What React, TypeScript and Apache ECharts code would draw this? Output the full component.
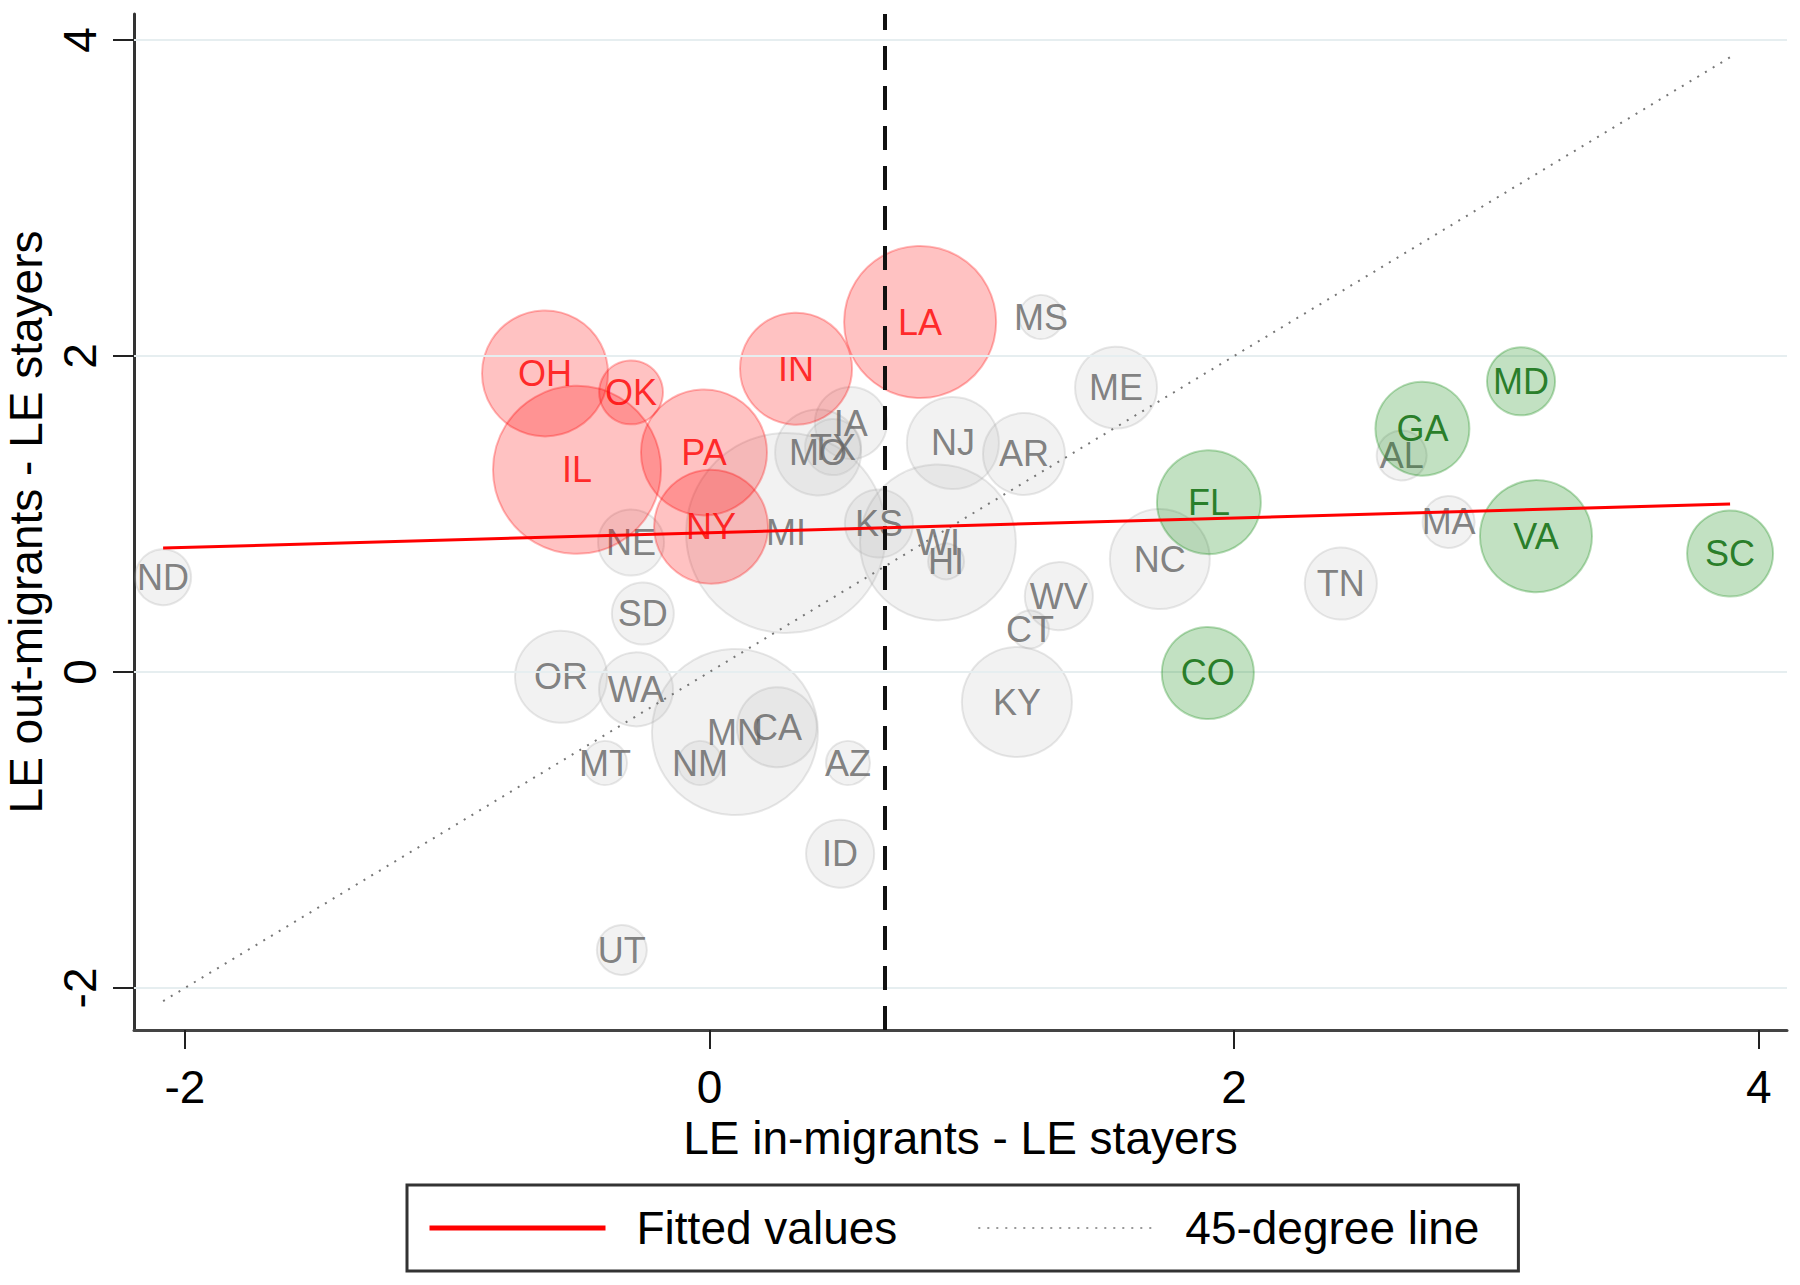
import React, { useEffect, useRef } from "react";
import * as echarts from "echarts";

// ---- data ----
const states = [
  "ND", "OH", "IL", "OK", "PA", "NY", "IN", "LA", "MS", "ME", "NJ", "AR", "IA", "TX", "MO",
  "MI", "KS", "WI", "HI", "NE", "SD", "WV", "CT", "NC", "FL", "CO", "OR", "WA", "MT", "NM",
  "MN", "CA", "AZ", "ID", "UT", "KY", "MD", "GA", "AL", "MA", "VA", "SC", "TN",
];
// LE in-migrants - LE stayers
const inMigGap = [
  -2.083, -0.627, -0.505, -0.299, -0.021, 0.006, 0.33, 0.803, 1.264, 1.55, 0.928, 1.199, 0.539, 0.471, 0.414,
  0.292, 0.646, 0.871, 0.902, -0.299, -0.254, 1.332, 1.222, 1.717, 1.904, 1.9, -0.566, -0.28, -0.398, -0.036,
  0.097, 0.257, 0.528, 0.498, -0.334, 1.172, 3.094, 2.718, 2.639, 2.818, 3.151, 3.891, 2.407,
];
// LE out-migrants - LE stayers
const outMigGap = [
  0.6, 1.89, 1.28, 1.77, 1.39, 0.92, 1.92, 2.215, 2.247, 1.8, 1.45, 1.38, 1.576, 1.424, 1.39,
  0.88, 0.94, 0.82, 0.7, 0.82, 0.37, 0.48, 0.27, 0.715, 1.075, -0.006, -0.03, -0.11, -0.576, -0.576,
  -0.38, -0.35, -0.576, -1.15, -1.76, -0.19, 1.84, 1.54, 1.37, 0.95, 0.86, 0.75, 0.56,
];
// bubble weights (relative, area-proportional)
const weights = [
  7.84, 39.7, 70.6, 10.2, 39.7, 32.5, 31.4, 57.8, 4.84, 16.8, 21.2, 16.8, 13.0, 7.84, 18.5,
  100, 11.6, 60.8, 3.24, 10.9, 9.6, 11.6, 3.6, 25, 27, 21.2, 21.2, 13.7, 4.84, 4.84,
  68.9, 16, 4.84, 11.6, 6.25, 30.3, 11.6, 22.1, 6.25, 6.76, 31.4, 18.5, 13,
];
// group: 0 = other, 1 = red, 2 = green
const groups = [
  0, 1, 1, 1, 1, 1, 1, 1, 0, 0, 0, 0, 0, 0, 0,
  0, 0, 0, 0, 0, 0, 0, 0, 0, 2, 2, 0, 0, 0, 0,
  0, 0, 0, 0, 0, 0, 2, 2, 0, 0, 2, 2, 0,
];

const fittedX = [-2.083, 3.891];
const fittedY = [0.785, 1.063];
const diagX = [-2.083, 3.891];
const xTicks = [-2, 0, 2, 4];
const yTicks = [-2, 0, 2, 4];
const cutoffX = [0.665];

const FONT = "'Liberation Sans', Arial, sans-serif";

export default function App() {
  const ref = useRef<HTMLDivElement>(null);

  useEffect(() => {
    if (!ref.current) return;
    const chart = echarts.init(ref.current, undefined, { renderer: "svg" });

    const pts = (g: number) =>
      states
        .map((s, i) => ({ name: s, value: [inMigGap[i], outMigGap[i], weights[i]], g: groups[i] }))
        .filter((d) => d.g === g)
        .map((d) => ({ name: d.name, value: d.value }));

    const sizeFn = (v: number[]) => 20 * Math.sqrt(v[2]);

    const groupStyles = [
      { fill: "rgba(190,190,190,0.25)", border: "rgba(160,160,160,0.3)", text: "#636363" },
      { fill: "rgba(255,0,0,0.3)", border: "rgba(255,0,0,0.35)", text: "#ff0000" },
      { fill: "rgba(0,128,0,0.3)", border: "rgba(0,128,0,0.35)", text: "#006400" },
    ];

    const bubbleSeries = [0, 1, 2].map((g) => ({
      type: "scatter",
      name: "g" + g,
      z: 3 + g,
      data: pts(g),
      symbol: "circle",
      symbolSize: sizeFn,
      itemStyle: {
        color: groupStyles[g].fill,
        borderColor: groupStyles[g].border,
        borderWidth: 2,
      },
      label: {
        show: true,
        position: "inside",
        formatter: "{b}",
        fontSize: 36,
        fontFamily: FONT,
        color: groupStyles[g].text,
      },
      emphasis: { disabled: true },
    }));

    chart.setOption({
      animation: false,
      backgroundColor: "#ffffff",
      textStyle: { fontFamily: FONT },
      grid: { left: 134, right: 13, top: 14, bottom: 255, containLabel: false, outerBoundsMode: "none" },
      xAxis: {
        type: "value",
        min: -2.194,
        max: 4.108,
        name: "LE in-migrants - LE stayers",
        nameLocation: "middle",
        nameGap: 84,
        nameTextStyle: { fontSize: 46, color: "#000", fontFamily: FONT },
        axisLine: { show: true, onZero: false, lineStyle: { color: "#444", width: 3 } },
        axisTick: { show: true, length: 19, customValues: xTicks, lineStyle: { color: "#222", width: 2 } },
        axisLabel: { customValues: xTicks, fontSize: 46, color: "#000", margin: 34, fontFamily: FONT },
        splitLine: { show: false },
      },
      yAxis: {
        type: "value",
        min: -2.266,
        max: 4.165,
        name: "LE out-migrants - LE stayers",
        nameLocation: "middle",
        nameGap: 80,
        nameTextStyle: { fontSize: 46, color: "#000", fontFamily: FONT },
        axisLine: { show: true, onZero: false, lineStyle: { color: "#333", width: 3 } },
        axisTick: { show: true, length: 21, customValues: yTicks, lineStyle: { color: "#222", width: 2 } },
        axisLabel: { customValues: yTicks, rotate: 90, fontSize: 46, color: "#000", margin: 31, fontFamily: FONT },
        splitLine: { show: false },
      },
      legend: {
        data: [
          { name: "Fitted values", lineStyle: { width: 5 } },
          { name: "45-degree line", lineStyle: { width: 2, color: "#999" } },
        ],
        left: 407,
        top: 1185,
        orient: "horizontal",
        itemWidth: 176,
        itemHeight: 20,
        itemGap: 80,
        padding: [20, 39, 20, 20],
        borderColor: "#333",
        borderWidth: 3,
        itemStyle: { color: "rgba(0,0,0,0)", borderColor: "rgba(0,0,0,0)", borderWidth: 0 },
        textStyle: { fontSize: 46, color: "#000", fontFamily: FONT, padding: [0, 0, 0, 26] },
      },
      series: [
        {
          type: "line",
          name: "grid",
          data: [],
          z: 1,
          silent: true,
          markLine: {
            silent: true,
            symbol: ["none", "none"],
            label: { show: false },
            lineStyle: { color: "#e6eef0", width: 2, type: "solid" },
            data: yTicks.map((v) => ({ yAxis: v })),
          },
        },
        ...bubbleSeries,
        {
          type: "line",
          name: "45-degree line",
          z: 7,
          data: diagX.map((v) => [v, v]),
          symbol: "none",
          showSymbol: false,
          lineStyle: { color: "#777", width: 2, type: [2, 7] },
          itemStyle: { color: "#777" },
          silent: true,
        },
        {
          type: "line",
          name: "Fitted values",
          z: 8,
          data: fittedX.map((v, i) => [v, fittedY[i]]),
          symbol: "none",
          showSymbol: false,
          lineStyle: { color: "#ff0000", width: 3 },
          itemStyle: { color: "#ff0000" },
          silent: true,
        },
        {
          type: "line",
          name: "cutoff",
          data: [],
          z: 9,
          silent: true,
          markLine: {
            silent: true,
            symbol: ["none", "none"],
            label: { show: false },
            lineStyle: { color: "#111", width: 4, type: [24, 16] },
            data: cutoffX.map((v) => ({ xAxis: v })),
          },
        },
      ],
    });

    return () => chart.dispose();
  }, []);

  return (
    <div
      ref={ref}
      style={{ position: "absolute", left: 0, top: 0, width: 1800, height: 1285, background: "#fff" }}
    />
  );
}
